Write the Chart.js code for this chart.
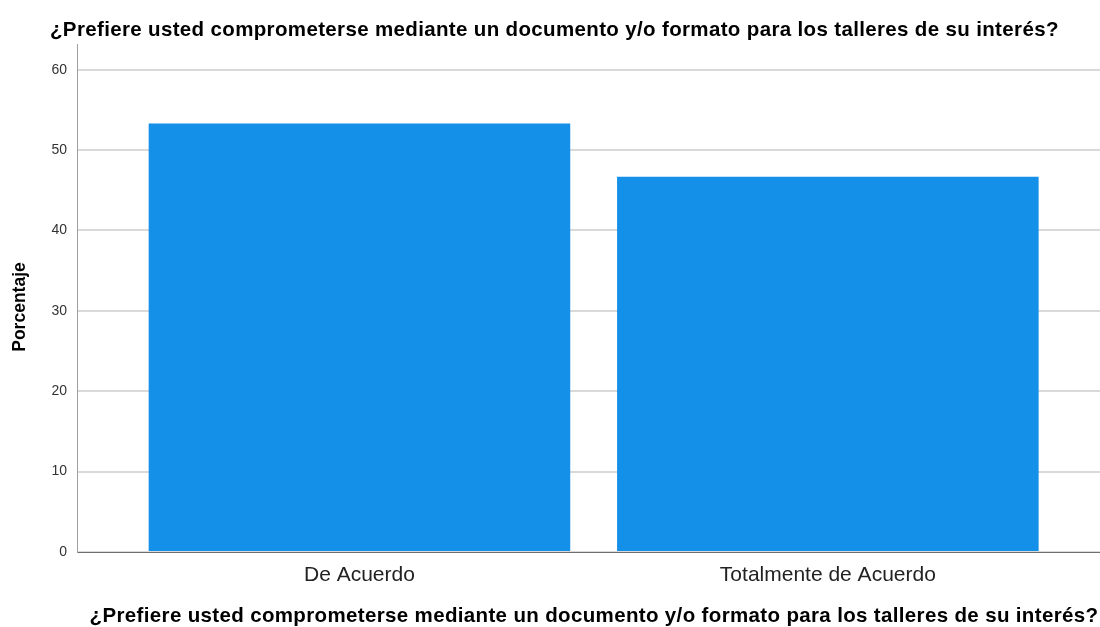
<!DOCTYPE html>
<html>
<head>
<meta charset="utf-8">
<script src="https://cdn.jsdelivr.net/npm/chart.js@4"></script>
<style>
  html, body { margin: 0; padding: 0; background: #fff; }
  #wrap { width: 1100px; height: 627px; }
</style>
</head>
<body>
<div id="wrap"><canvas id="chart" width="1100" height="627"></canvas></div>
<script>
const categories = ["De Acuerdo", "Totalmente de Acuerdo"];
const percentages = [53.3, 46.7];
const yTicks = [0, 10, 20, 30, 40, 50, 60];
const chartTitle = "¿Prefiere usted comprometerse mediante un documento y/o formato para los talleres de su interés?";
const xTitle = chartTitle;
const yTitle = "Porcentaje";

const FONT = "'Liberation Sans', Arial, sans-serif";

// titles drawn by hand so they sit where the SPSS output puts them
const titles = {
  id: 'titles',
  afterDraw(chart) {
    const ctx = chart.ctx;
    ctx.save();
    ctx.fillStyle = '#000';
    ctx.font = "bold 20.5px " + FONT;
    ctx.letterSpacing = '0.35px';
    ctx.textBaseline = 'alphabetic';
    ctx.textAlign = 'left';
    ctx.fillText(chartTitle, 50, 36);
    ctx.textAlign = 'center';
    ctx.fillText(xTitle, 594, 622);

    ctx.letterSpacing = '0px';
    ctx.font = "bold 17.5px " + FONT;
    ctx.translate(20, 307);
    ctx.rotate(-Math.PI / 2);
    ctx.textBaseline = 'middle';
    ctx.fillText(yTitle, 0, 0);
    ctx.restore();
  }
};

const points = categories.map((c, i) => ({ x: i, y: percentages[i] }));

new Chart(document.getElementById('chart').getContext('2d'), {
  type: 'bar',
  data: {
    datasets: [{
      data: points,
      backgroundColor: '#1490E8',
      borderWidth: 0,
      barPercentage: 0.9,
      categoryPercentage: 1,
    }]
  },
  options: {
    responsive: false,
    animation: false,
    layout: { padding: { top: 44, right: 0, bottom: 0, left: 0 } },
    plugins: {
      legend: { display: false },
      tooltip: { enabled: false },
    },
    scales: {
      x: {
        type: 'linear',
        offset: false,
        grace: 0,
        min: -0.603,
        max: 1.581,
        afterBuildTicks: (scale) => { scale.ticks = categories.map((c, i) => ({ value: i })); },
        afterFit: (scale) => { scale.height = 75; },
        grid: { display: false, drawTicks: false },
        border: { display: true, color: '#6e6e6e', width: 1 },
        ticks: {
          callback: (v) => categories[v],
          color: '#222',
          font: { family: FONT, size: 21 },
          padding: 11,
          maxRotation: 0,
        },
      },
      y: {
        min: 0,
        max: 63.2,
        afterBuildTicks: (scale) => { scale.ticks = yTicks.map(v => ({ value: v })); },
        afterFit: (scale) => { scale.width = 77; },
        grid: { color: '#d9d9d9', lineWidth: 2, drawTicks: false },
        border: { display: true, color: '#a0a0a0', width: 1 },
        ticks: {
          color: '#333',
          font: { family: FONT, size: 14 },
          padding: 10,
        },
      },
    },
  },
  plugins: [titles],
});
</script>
</body>
</html>
